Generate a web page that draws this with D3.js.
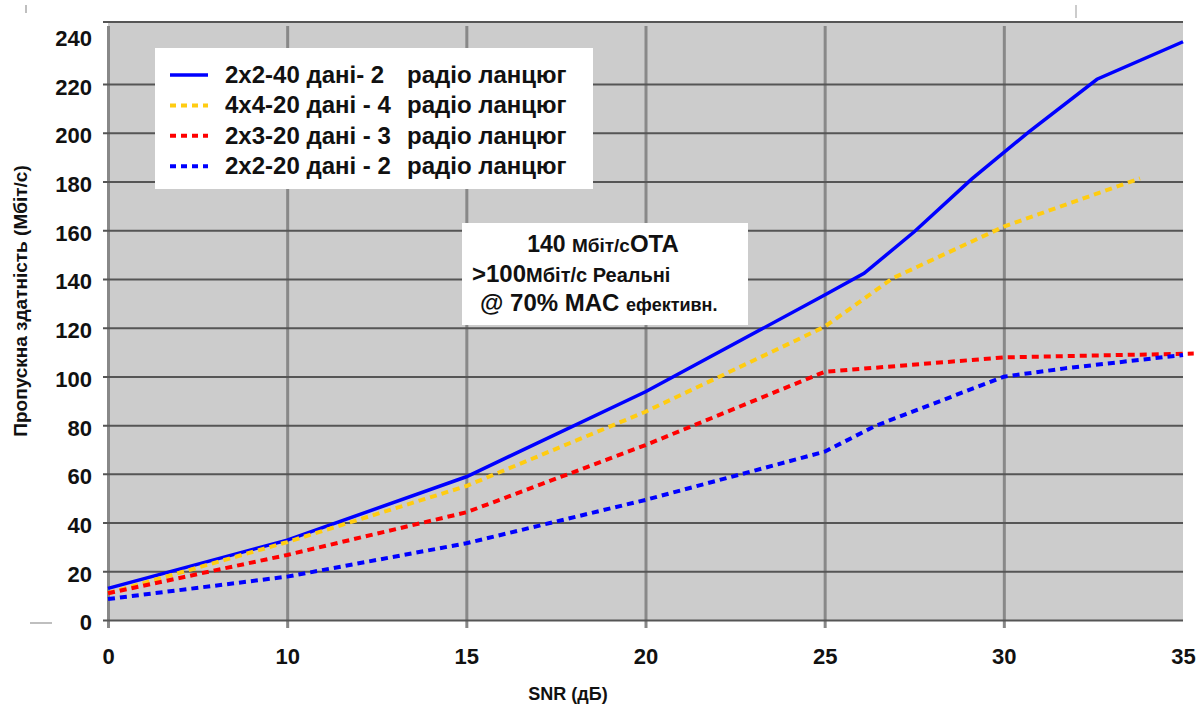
<!DOCTYPE html>
<html lang="uk">
<head>
<meta charset="UTF-8">
<title>SNR chart</title>
<style>
    body { margin: 0; background: #fff; }
    svg { display: block; font-family: "Liberation Sans", Arial, sans-serif; }
</style>
<script src="https://d3js.org/d3.v7.min.js"></script>
</head>
<body>
<svg width="1200" height="708"></svg>
<script>
// x axis categories (SNR, dB) - equally spaced in the original
const xTicks = [0, 10, 15, 20, 25, 30, 35];
const yTicks = [0, 20, 40, 60, 80, 100, 120, 140, 160, 180, 200, 220, 240];

// series: [snr, throughput]
const s2x2_40 = [[0, 13], [10, 32.8], [15, 58.8], [20, 93.7], [25, 133.4], [26.1, 142.3],
    [27.5, 159.4], [29.1, 181], [30.7, 200.4], [32.6, 222], [35, 237.4]];
const s4x4_20 = [[0, 11], [10, 32], [15, 55], [20, 85.5], [25, 120.4], [26.9, 140.3],
    [30, 161.5], [33.8, 181.3]];
const s2x3_20 = [[0, 11], [10, 26.7], [15, 44.2], [20, 71.8], [25, 101.9], [30, 107.8], [35.3, 109.4]];
const s2x2_20 = [[0, 8.6], [10, 17.8], [15, 31.5], [20, 49.3], [25, 69.1], [26.4, 79.6],
    [30, 99.9], [31.7, 103.3], [35, 108.8]];

const seriesNames = ['2x2-40 дані- 2', '4x4-20 дані - 4', '2x3-20 дані - 3', '2x2-20 дані - 2'];
const seriesSuffix = 'радіо ланцюг';
const seriesData = [s2x2_40, s4x4_20, s2x3_20, s2x2_20];
const seriesColors = ['#0000ff', '#ffcc11', '#ff0000', '#0000ff'];
const seriesDash = [null, '7,5', '7,5', '7,5'];

let svg = d3.select('svg');

let plotLeft = 108, plotRight = 1183, plotTop = 22, plotBottom = 620;
let step = (plotRight - plotLeft) / (xTicks.length - 1);

let x = d3.scaleLinear()
    .domain(xTicks)
    .range(xTicks.map((d, i) => plotLeft + i * step));
let y = d3.scaleLinear().domain([0, 245.5]).range([plotBottom, plotTop]);

// stray marks from the scan
svg.append('line').attr('x1', 30).attr('x2', 52).attr('y1', 623).attr('y2', 623)
    .attr('stroke', '#aaa').attr('stroke-width', 1.5);
svg.append('line').attr('x1', 26).attr('x2', 26).attr('y1', 5).attr('y2', 13)
    .attr('stroke', '#aaa').attr('stroke-width', 1.5);
svg.append('line').attr('x1', 1076).attr('x2', 1076).attr('y1', 5).attr('y2', 18)
    .attr('stroke', '#bbb').attr('stroke-width', 1.5);

// plot background
svg.append('rect')
    .attr('x', plotLeft).attr('y', plotTop)
    .attr('width', plotRight - plotLeft).attr('height', plotBottom - plotTop)
    .attr('fill', '#cccccc');

// vertical grid + x labels
let xAxis = svg.append('g')
    .attr('transform', `translate(0,${plotBottom + 8})`)
    .call(d3.axisBottom(x).tickValues(xTicks).tickSizeInner(-(plotBottom + 8 - plotTop - 4)).tickSizeOuter(0));
xAxis.select('.domain').remove();
xAxis.selectAll('.tick line')
    .attr('stroke', '#888').attr('stroke-width', 3)
    .attr('display', d => d === 35 ? 'none' : null);
xAxis.selectAll('.tick text')
    .attr('y', 20).attr('dy', '0.71em')
    .attr('font-size', 22).attr('font-weight', 'bold').attr('fill', '#111');

// horizontal grid + y labels
let yAxis = svg.append('g')
    .attr('transform', `translate(${plotLeft - 5},0)`)
    .call(d3.axisLeft(y).tickValues(yTicks).tickSizeInner(-(plotRight - plotLeft + 5)).tickSizeOuter(0).tickPadding(11));
yAxis.select('.domain').remove();
yAxis.selectAll('.tick line')
    .attr('stroke', '#555').attr('stroke-width', 2)
    .attr('display', d => d === 240 ? 'none' : null);
yAxis.selectAll('.tick text')
    .attr('dy', '0.45em')
    .attr('font-size', 22).attr('font-weight', 'bold').attr('fill', '#111');

// top border
svg.append('line')
    .attr('x1', plotLeft - 5).attr('x2', plotRight)
    .attr('y1', plotTop).attr('y2', plotTop)
    .attr('stroke', '#555').attr('stroke-width', 2);

// lines
let line = d3.line().x(d => x(d[0])).y(d => y(d[1]));

seriesData.forEach((s, i) => {
    svg.append('path')
        .datum(s)
        .attr('d', line)
        .attr('fill', 'none')
        .attr('stroke', seriesColors[i])
        .attr('stroke-width', i === 0 ? 3.5 : 4)
        .attr('stroke-dasharray', seriesDash[i]);
});

// legend
svg.append('rect')
    .attr('x', 155).attr('y', 48)
    .attr('width', 438).attr('height', 141)
    .attr('fill', '#fff');

seriesNames.forEach((name, i) => {
    let ly = 75 + i * 30.4;
    svg.append('line')
        .attr('x1', 170).attr('x2', 208)
        .attr('y1', ly).attr('y2', ly)
        .attr('stroke', seriesColors[i])
        .attr('stroke-width', i === 0 ? 3.5 : 4)
        .attr('stroke-dasharray', seriesDash[i] ? '6,5' : null);
    svg.append('text')
        .attr('x', 225).attr('y', ly + 8)
        .attr('font-size', 24).attr('font-weight', 'bold')
        .attr('fill', '#111')
        .text(name);
    svg.append('text')
        .attr('x', 407).attr('y', ly + 8)
        .attr('font-size', 24).attr('font-weight', 'bold')
        .attr('fill', '#111')
        .text(seriesSuffix);
});

// annotation box
svg.append('rect')
    .attr('x', 462).attr('y', 223)
    .attr('width', 286).attr('height', 102)
    .attr('fill', '#fff');

let t1 = svg.append('text').attr('x', 603).attr('y', 252).attr('text-anchor', 'middle')
    .attr('font-weight', 'bold').attr('fill', '#111');
t1.append('tspan').attr('font-size', 23).text('140 ');
t1.append('tspan').attr('font-size', 19).text('Мбіт/с');
t1.append('tspan').attr('font-size', 24).text('OTA');

let t2 = svg.append('text').attr('x', 472).attr('y', 282)
    .attr('font-weight', 'bold').attr('fill', '#111');
t2.append('tspan').attr('font-size', 24).text('>100');
t2.append('tspan').attr('font-size', 20).text('Мбіт/с Реальні');

let t3 = svg.append('text').attr('x', 480).attr('y', 311)
    .attr('font-weight', 'bold').attr('fill', '#111');
t3.append('tspan').attr('font-size', 24).text('@ 70% MAC ');
t3.append('tspan').attr('font-size', 18).text('ефективн.');

// axis titles
svg.append('text')
    .attr('transform', 'translate(27,301) rotate(-90)')
    .attr('text-anchor', 'middle')
    .attr('font-size', 19).attr('font-weight', 'bold').attr('fill', '#111')
    .text('Пропускна здатність (Мбіт/с)');

svg.append('text')
    .attr('x', 568).attr('y', 700)
    .attr('text-anchor', 'middle')
    .attr('font-size', 18).attr('font-weight', 'bold').attr('fill', '#111')
    .text('SNR (дБ)');
</script>
</body>
</html>
